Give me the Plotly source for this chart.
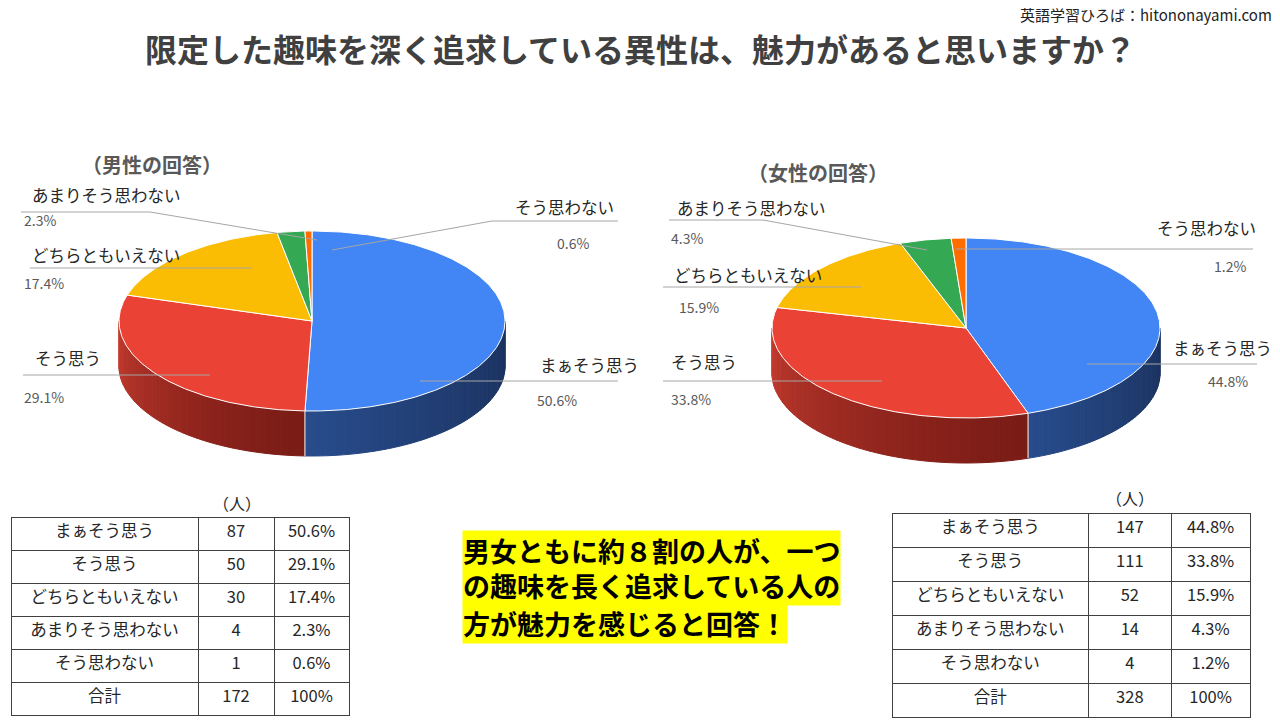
import numpy as np
import plotly.graph_objects as go

# survey data
categories = ["まぁそう思う", "そう思う", "どちらともいえない", "あまりそう思わない", "そう思わない"]
male_counts = [87, 50, 30, 4, 1]
female_counts = [147, 111, 52, 14, 4]

title = "限定した趣味を深く追求している異性は、魅力があると思いますか？"
source = "英語学習ひろば：hitononayami.com"
summary_lines = ["男女ともに約８割の人が、一つ", "の趣味を長く追求している人の", "方が魅力を感じると回答！"]

# colours
top_colors = ["#4285F4", "#EA4335", "#FBBC04", "#34A853", "#FF6D01"]
wall_light = ["#284C8C", "#C43B2F", "#C08E05", "#2A8040", "#C65402"]
wall_dark = ["#1B325F", "#7A1C16", "#7A5A02", "#1A4F28", "#7A3301"]

FONT = "Noto Sans CJK JP"


def mix(c1, c2, f):
    a = [int(c1[i:i + 2], 16) for i in (1, 3, 5)]
    b = [int(c2[i:i + 2], 16) for i in (1, 3, 5)]
    return "rgb(%d,%d,%d)" % tuple(round(a[k] + (b[k] - a[k]) * f) for k in range(3))


def pie3d(fig, counts, cx, cy, rx, ry, depth):
    share = np.array(counts) / sum(counts)
    edges = np.concatenate([[0], np.cumsum(share)]) * 2 * np.pi
    ex = lambda t: cx + rx * np.sin(t)
    ey = lambda t: cy - ry * np.cos(t)
    # side walls (front half only)
    for i in range(len(counts)):
        a, b = max(edges[i], np.pi / 2), min(edges[i + 1], 3 * np.pi / 2)
        if b <= a:
            continue
        n = max(2, int((b - a) / 0.03))
        ts = np.linspace(a, b, n + 1)
        for k in range(n):
            t0, t1 = ts[k], ts[k + 1]
            f = ((t0 + t1) / 2 - a) / (b - a)
            col = mix(wall_dark[i], wall_light[i], f ** 1.3)
            seg = np.linspace(t0, t1, 4)
            xs = list(ex(seg)) + list(ex(seg[::-1]))
            ys = list(ey(seg)) + list(ey(seg[::-1]) + depth)
            fig.add_trace(go.Scatter(x=xs + [xs[0]], y=ys + [ys[0]], mode="lines", fill="toself",
                                     fillcolor=col, line=dict(color=col, width=1),
                                     hoverinfo="skip", showlegend=False))
    # slice boundaries on the wall
    for e in edges[1:-1]:
        if np.pi / 2 < e < 3 * np.pi / 2:
            fig.add_trace(go.Scatter(x=[ex(e), ex(e)], y=[ey(e), ey(e) + depth], mode="lines",
                                     line=dict(color="white", width=1), hoverinfo="skip",
                                     showlegend=False))
    # top face
    for i in range(len(counts)):
        ts = np.linspace(edges[i], edges[i + 1], max(3, int((edges[i + 1] - edges[i]) / 0.01)))
        xs = [cx] + list(ex(ts)) + [cx]
        ys = [cy] + list(ey(ts)) + [cy]
        fig.add_trace(go.Scatter(x=xs, y=ys, mode="lines", fill="toself", fillcolor=top_colors[i],
                                 line=dict(color="white", width=1), name=categories[i],
                                 hoverinfo="name", showlegend=False))
    return share


fig = go.Figure()
male_share = pie3d(fig, male_counts, 312, 321, 193, 90, 45)
female_share = pie3d(fig, female_counts, 966, 328, 194, 90, 45)

# label layout: (label x, y, pct x, y, leader path)
male_labels = [
    (538, 365, 535, 400, [(618, 381), (420, 381)]),
    (33, 358, 22, 397, [(23, 375), (210, 375)]),
    (30, 255, 22, 283, [(30, 268), (252, 268)]),
    (30, 195, 22, 220, [(21, 212), (150, 212), (317, 240)]),
    (513, 207, 555, 243, [(618, 221), (492, 221), (332, 250)]),
]
female_labels = [
    (1171, 348, 1206, 381, [(1257, 364), (1087, 364)]),
    (669, 362, 669, 399, [(663, 381), (882, 381)]),
    (672, 275, 677, 307, [(663, 287), (861, 287)]),
    (675, 208, 669, 238, [(669, 220), (763, 220), (927, 250)]),
    (1155, 228, 1212, 266, [(1253, 249), (956, 249)]),
]

annotations = []
shapes = []
for share, labels in ((male_share, male_labels), (female_share, female_labels)):
    for i, (lx, ly, px, py, path) in enumerate(labels):
        annotations.append(dict(x=lx, y=ly, xref="x", yref="y", text=categories[i], showarrow=False,
                                xanchor="left", font=dict(family=FONT, size=16.5, color="#262626")))
        annotations.append(dict(x=px, y=py, xref="x", yref="y", text="%.1f%%" % (share[i] * 100),
                                showarrow=False, xanchor="left",
                                font=dict(family=FONT, size=14, color="#595959")))
        d = "M " + " L ".join("%g,%g" % p for p in path)
        shapes.append(dict(type="path", path=d, xref="x", yref="y",
                           line=dict(color="#A6A6A6", width=1)))

annotations += [
    dict(x=152, y=164, xref="x", yref="y", text="<b>（男性の回答）</b>", showarrow=False,
         font=dict(family=FONT, size=20, color="#595959")),
    dict(x=818, y=172, xref="x", yref="y", text="<b>（女性の回答）</b>", showarrow=False,
         font=dict(family=FONT, size=20, color="#595959")),
    dict(x=640, y=48, xref="x", yref="y", text="<b>" + title + "</b>", showarrow=False,
         font=dict(family=FONT, size=32, color="#404040")),
    dict(x=1274, y=14, xref="x", yref="y", text=source, showarrow=False, xanchor="right",
         font=dict(family=FONT, size=15, color="#222222")),
    dict(x=237, y=503, xref="x", yref="y", text="（人）", showarrow=False,
         font=dict(family=FONT, size=16, color="#262626")),
    dict(x=1130, y=498, xref="x", yref="y", text="（人）", showarrow=False,
         font=dict(family=FONT, size=16, color="#262626")),
]
# highlighted summary: first two lines share one box, the shorter last line its own
annotations.append(dict(x=462, y=530, xref="x", yref="y", yanchor="top", xanchor="left",
                        text="<b>" + "<br>".join(summary_lines[:2]) + "</b>", showarrow=False,
                        bgcolor="#FFFF00", borderpad=0, align="left",
                        font=dict(family=FONT, size=27, color="#000000")))
annotations.append(dict(x=462, y=603, xref="x", yref="y", yanchor="top", xanchor="left",
                        text="<b>" + summary_lines[2] + "</b>", showarrow=False,
                        bgcolor="#FFFF00", borderpad=0, align="left",
                        font=dict(family=FONT, size=27, color="#000000")))


def add_table(counts, share, x0, x1, y0, y1, widths, row_h):
    col1 = categories + ["合計"]
    col2 = [str(c) for c in counts] + [str(sum(counts))]
    col3 = ["%.1f%%" % (s * 100) for s in share] + ["100%"]
    font = dict(family=FONT, size=16.5, color="#262626")
    fig.add_trace(go.Table(
        domain=dict(x=[x0 / 1280, x1 / 1280], y=[1 - y1 / 720, 1 - y0 / 720]),
        columnwidth=widths,
        header=dict(values=[col1[0], col2[0], col3[0]], fill_color="white", align="center",
                    line=dict(color="#404040", width=1), font=font, height=row_h),
        cells=dict(values=[col1[1:], col2[1:], col3[1:]], fill_color="white", align="center",
                   line=dict(color="#404040", width=1), font=font, height=row_h),
    ))


add_table(male_counts, male_share, 11, 349, 517, 720, [187, 76, 75], 33)
add_table(female_counts, female_share, 892, 1251, 513, 720, [197, 83, 79], 34)

fig.update_layout(
    width=1280, height=720,
    margin=dict(l=0, r=0, t=0, b=0),
    paper_bgcolor="white", plot_bgcolor="white",
    xaxis=dict(range=[0, 1280], visible=False, domain=[0, 1]),
    yaxis=dict(range=[720, 0], visible=False, domain=[0, 1]),
    annotations=annotations,
    shapes=shapes,
    showlegend=False,
)
fig.write_html("out.html", config={"displayModeBar": False},
               post_script="document.body.style.margin='0';")
